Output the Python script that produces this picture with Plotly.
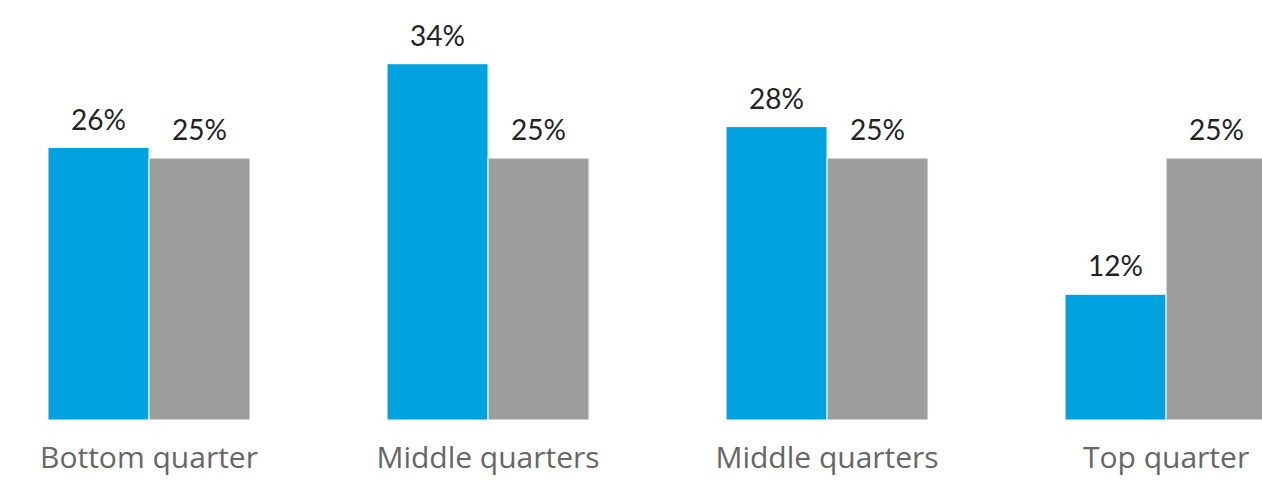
import plotly.graph_objects as go

categories = ["Bottom quarter", "Middle quarters", "Middle quarters", "Top quarter"]
series_a = [26, 34, 28, 12]
series_b = [25, 25, 25, 25]
positions = [0, 1, 2, 3]

BLUE = "#00a2df"
GRAY = "#9d9d9d"

fig = go.Figure()
fig.add_trace(go.Bar(x=positions, y=series_a, marker=dict(color=BLUE, line=dict(color="white", width=1)),
                     showlegend=False, hoverinfo="skip"))
fig.add_trace(go.Bar(x=positions, y=series_b, marker=dict(color=GRAY, line=dict(color="white", width=1)),
                     showlegend=False, hoverinfo="skip"))

off = 0.596 / 4
for p, a, b in zip(positions, series_a, series_b):
    for dx, v in ((-off, a), (off, b)):
        fig.add_annotation(x=p + dx, y=v, text=f"{v}%", showarrow=False, yanchor="bottom",
                           yshift=10, font=dict(family="Lato", size=28, color="#222222"))

fig.update_layout(
    width=1262, height=484,
    margin=dict(l=0, r=0, t=0, b=64),
    paper_bgcolor="white", plot_bgcolor="white",
    barmode="group", bargap=0.404, bargroupgap=0,
    xaxis=dict(range=[-0.4395, 3.283], tickvals=positions, ticktext=categories,
               showgrid=False, zeroline=False, showline=False, ticks="",
               ticklabelstandoff=17,
               tickfont=dict(family="Open Sans", size=30, color="#666666")),
    yaxis=dict(range=[0, 40.08], visible=False),
)

fig.write_html("out.html",
               config={"displayModeBar": False},
               post_script="document.body.style.margin='0';document.body.style.overflow='hidden';")
